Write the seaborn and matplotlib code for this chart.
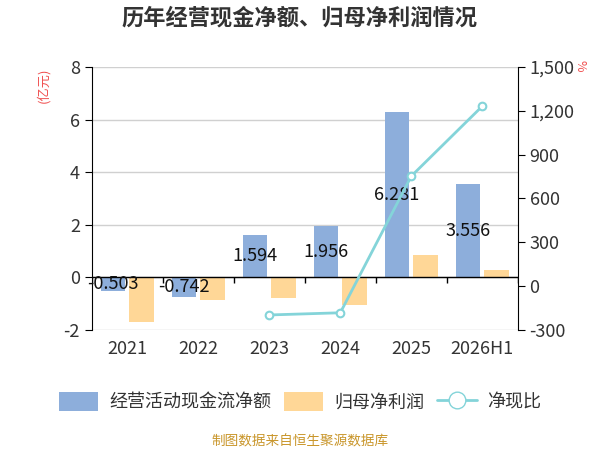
import matplotlib
matplotlib.use("Agg")
import matplotlib.pyplot as plt
from matplotlib.patches import Patch
from matplotlib.lines import Line2D
from matplotlib.ticker import FuncFormatter
import numpy as np
import pandas as pd
import seaborn as sns

# ===== データ =====
YEARS = ["2021", "2022", "2023", "2024", "2025", "2026H1"]
CASH_FLOW = [-0.503, -0.742, 1.594, 1.956, 6.281, 3.556]      # 经营活动现金流净额(亿元)
NET_PROFIT = [-1.72, -0.85, -0.78, -1.05, 0.84, 0.29]          # 归母净利润(亿元)
RATIO_YEARS = ["2023", "2024", "2025", "2026H1"]
RATIO = [-198, -183, 753, 1232]                                # 净现比(%)

SERIES = ["经营活动现金流净额", "归母净利润"]
COLORS = ["#8DAEDB", "#FFD797"]
LINE_COLOR = "#84D4D9"

sns.set_style("white")
plt.rcParams["font.family"] = ["Noto Sans CJK SC", "DejaVu Sans"]
plt.rcParams["axes.unicode_minus"] = False

df = pd.DataFrame({
    "year": YEARS * 2,
    "value": CASH_FLOW + NET_PROFIT,
    "series": [SERIES[0]] * len(YEARS) + [SERIES[1]] * len(YEARS),
})

fig = plt.figure(figsize=(6, 4.5), dpi=100)
ax = fig.add_axes([0.153, 0.267, 0.71, 0.584])

sns.barplot(data=df, x="year", y="value", hue="series", order=YEARS,
            hue_order=SERIES, palette=COLORS, saturation=1, width=0.8, gap=0.15,
            linewidth=0, legend=False, ax=ax, zorder=2)

ax.set_xlim(-0.5, len(YEARS) - 0.5)
ax.set_ylim(-2, 8)
ax.set_yticks(range(-2, 9, 2))
ax.set_axisbelow(True)
ax.yaxis.grid(True, color="#D0D0D0", lw=1)
ax.set_xlabel("")
ax.set_ylabel("")

# 数値ラベル（棒の中央）
for i, v in enumerate(CASH_FLOW):
    ax.text(i - 0.2, v / 2, f"{v:.3f}", ha="center", va="center",
            fontsize=13, color="#111111", zorder=5)

# ゼロ線と区切り目盛
ax.axhline(0, color="black", lw=1, zorder=3)
ax.vlines(np.arange(len(YEARS) + 1) - 0.5, -0.2, 0, color="black", lw=1, zorder=3)

for s in ["top", "bottom", "right"]:
    ax.spines[s].set_visible(False)
ax.spines["left"].set_color("black")
ax.set_xticks(range(len(YEARS)))
ax.set_xticklabels(YEARS)
ax.tick_params(axis="x", length=0, pad=7, labelsize=13, labelcolor="#333333")
ax.tick_params(axis="y", left=True, length=5, color="black", labelsize=13,
               labelcolor="#333333")

# 右軸：净现比
ax2 = ax.twinx()
pos = [YEARS.index(y) for y in RATIO_YEARS]
sns.lineplot(x=pos, y=RATIO, ax=ax2, color=LINE_COLOR, lw=2, marker="o",
             markersize=5.5, markerfacecolor="white", markeredgecolor=LINE_COLOR,
             markeredgewidth=1.5)
ax2.set_ylim(-300, 1500)
ax2.set_yticks(range(-300, 1501, 300))
ax2.yaxis.set_major_formatter(FuncFormatter(lambda v, p: f"{int(v):,}"))
for s in ["top", "bottom", "left"]:
    ax2.spines[s].set_visible(False)
ax2.spines["right"].set_color("black")
ax2.tick_params(axis="y", right=True, length=5, color="black", labelsize=13,
                labelcolor="#333333")
ax2.set_ylabel("")

# 単位
fig.text(0.072, 0.85, "(亿元)", rotation=90, ha="center", va="top",
         fontsize=9.5, color="#F05050")
fig.text(0.966, 0.855, "%", rotation=-90, ha="center", va="center",
         fontsize=9, color="#F05050")

fig.text(0.5, 0.96, "历年经营现金净额、归母净利润情况", ha="center", va="center",
         fontsize=16, fontweight="bold", color="#333333")

handles = [
    Patch(facecolor=COLORS[0], edgecolor="none", label=SERIES[0]),
    Patch(facecolor=COLORS[1], edgecolor="none", label=SERIES[1]),
    Line2D([0], [0], color=LINE_COLOR, lw=2, marker="o", markersize=12,
           markerfacecolor="white", markeredgecolor=LINE_COLOR, label="净现比"),
]
fig.legend(handles=handles, loc="center", bbox_to_anchor=(0.5, 0.107), ncol=3,
           frameon=False, fontsize=13, handlelength=2.2, handleheight=1.2,
           columnspacing=0.7, handletextpad=0.6, labelcolor="#333333")

fig.text(0.5, 0.02, "制图数据来自恒生聚源数据库", ha="center", va="center",
         fontsize=9.8, color="#C9962B")

fig.savefig("out.png", dpi=100)
